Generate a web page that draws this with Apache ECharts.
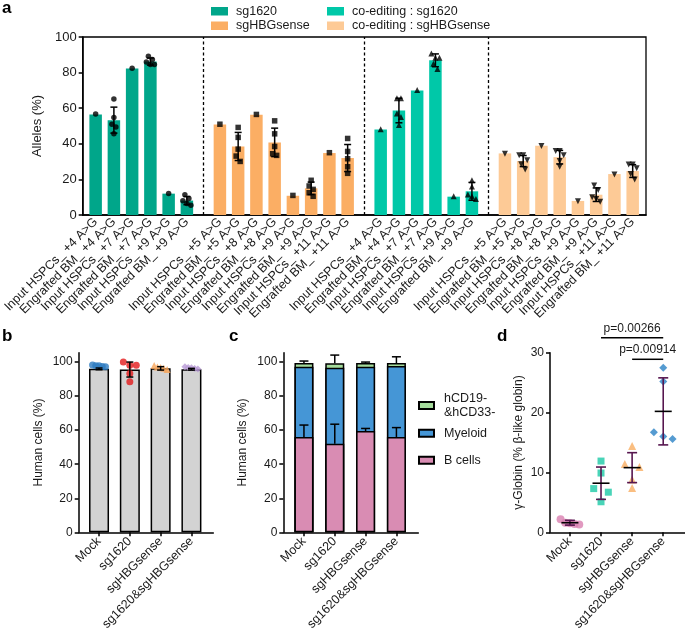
<!DOCTYPE html>
<html><head><meta charset="utf-8">
<script src="https://cdn.jsdelivr.net/npm/echarts@6/dist/echarts.min.js"></script>
<style>html,body{margin:0;padding:0;background:#fff}#c{width:685px;height:637px}</style>
</head><body><div id="c"></div>
<script>
// ================= DATA =================
// Panel a
const aSeriesNames = ['sg1620', 'sgHBGsense', 'co-editing : sg1620', 'co-editing : sgHBGsense'];
const aCat1 = ['Input HSPCs_ +4 A>G','Engrafted BM_ +4 A>G','Input HSPCs_ +7 A>G','Engrafted BM_ +7 A>G','Input HSPCs_ +9 A>G','Engrafted BM_ +9 A>G'];
const aCat2 = ['Input HSPCs_ +5 A>G','Engrafted BM_ +5 A>G','Input HSPCs_ +8 A>G','Engrafted BM_ +8 A>G','Input HSPCs_ +9 A>G','Engrafted BM_ +9 A>G','Input HSPCs_ +11 A>G','Engrafted BM_ +11 A>G'];
const aCat3 = ['Input HSPCs_ +4 A>G','Engrafted BM_ +4 A>G','Input HSPCs_ +7 A>G','Engrafted BM_ +7 A>G','Input HSPCs_ +9 A>G','Engrafted BM_ +9 A>G'];
const aCat4 = ['Input HSPCs_ +5 A>G','Engrafted BM_ +5 A>G','Input HSPCs_ +8 A>G','Engrafted BM_ +8 A>G','Input HSPCs_ +9 A>G','Engrafted BM_ +9 A>G','Input HSPCs_ +11 A>G','Engrafted BM_ +11 A>G'];
const aBar1 = [56.5, 53.3, 82.3, 86.2, 12.0, 8.1];
const aBar2 = [50.9, 38.5, 56.3, 40.8, 10.8, 15.0, 34.8, 32.0];
const aBar3 = [48.0, 58.7, 69.9, 86.9, 10.3, 13.3];
const aBar4 = [34.6, 30.3, 38.9, 32.5, 7.9, 11.4, 23.0, 24.7];
const aSd1 = [0, 7.3, 0, 2.0, 0, 2.3];
const aSd2 = [0, 7.9, 0, 8.0, 0, 3.5, 0, 7.6];
const aSd3 = [0, 6.9, 0, 3.6, 0, 5.0];
const aSd4 = [0, 3.1, 0, 3.8, 0, 3.8, 0, 3.6];
const aPts1 = [[56.7],[65.2,54.8,51.0,49.5,45.6],[82.4],[89.2,87.3,86.0,84.5,84.5],[12.1],[11.4,9.3,8.0,6.5,5.5]];
const aPts2 = [[51.0],[49.2,43.6,37.0,33.1,30.1],[56.5],[52.9,45.6,38.5,34.4,33.5],[11.0],[19.5,16.3,14.4,12.5,10.5],[35.0],[43.0,35.7,31.6,27.1,23.4]];
const aPts3 = [[48.2],[65.6,65.6,57.0,55.1,50.5],[70.2],[90.7,88.4,88.4,85.0,82.0],[10.6],[19.5,16.0,11.5,10.5,9.0]];
const aPts4 = [[34.4],[33.5,33.5,30.8,28.5,25.5],[38.7],[36.0,36.0,33.6,30.3,27.1],[7.7],[16.6,14.0,10.0,9.0,7.5],[22.8],[28.4,28.4,26.2,23.0,20.0]];
const aTicks = [0, 20, 40, 60, 80, 100];

// Panels b, c, d share the groups
const groups = ['Mock', 'sg1620', 'sgHBGsense', 'sg1620&sgHBGsense'];
// Panel b
const bBar = [96.0, 95.6, 96.3, 95.8];
const bSd = [0.5, 4.4, 1.0, 0.5];
const bPts = [[98.3,97.8,97.4,97.9,97.2],[100.0,98.2,98.2,93.3,88.4],[98.0,96.8,96.4,95.7,97.1],[97.3,96.2,96.8,95.9,96.6]];
const bTicks = [0, 20, 40, 60, 80, 100];
// Panel c
const cNames = ['B cells', 'Myeloid', 'hCD19-&hCD33-'];
const cB = [56.0, 52.0, 59.5, 56.0];
const cMyeloid = [41.3, 44.7, 37.8, 41.7];
const cOther = [2.1, 2.6, 2.1, 1.7];
const cBSd = [7.0, 11.5, 1.5, 5.5];
const cTopSd = [1.2, 4.8, 0.6, 3.7];
// Panel d
const dPts = [[2.2,1.6,1.5,1.3,1.4],[11.9,9.9,7.3,6.7,5.1],[14.4,11.4,10.9,8.8,7.4],[27.5,25.2,16.7,16.0,15.6]];
const dMean = [1.6, 8.2, 10.8, 20.2];
const dSd = [0.4, 2.7, 2.5, 5.6];
const dSigFrom = ['sg1620', 'sgHBGsense'];
const dSigTo = ['sg1620&sgHBGsense', 'sg1620&sgHBGsense'];
const dSigY = [32.5, 28.9];
const dSigText = ['p=0.00266', 'p=0.00914'];
const dTicks = [0, 10, 20, 30];

// ================= STYLE / LAYOUT =================
const FONT = '"Liberation Sans", Arial, Helvetica, sans-serif';
const TXT = '#1a1a1a';
const AX = {color: '#000', width: 1.5};
const aColors = ['#00A68A', '#FBAE64', '#00C8A8', '#FDCA96'];
const aSymbols = ['circle', 'rect', 'triangle', 'triangle'];
const aRot = [0, 0, 0, 180];
const bColors = ['#2C7BC0', '#E41A1C', '#F7A55A', '#B89AD6'];
const bSymbols = ['circle', 'circle', 'triangle', 'diamond'];
const cColors = ['#D98CB3', '#4596D6', '#A5DC9C'];
const dColors = ['#D97FB0', '#1CC9A6', '#F9AE62', '#2B82C6'];
const dSymbols = ['circle', 'rect', 'triangle', 'diamond'];
const WHISK = '#57164F';
const GROUP_GAP = 0.81;

const aCats = [aCat1, aCat2, aCat3, aCat4];
const aBars = [aBar1, aBar2, aBar3, aBar4];
const aSds = [aSd1, aSd2, aSd3, aSd4];
const aPts = [aPts1, aPts2, aPts3, aPts4];

// x position of each bar in panel a (category index plus a gap between groups)
const aOffsets = [];
let acc = 0;
aCats.forEach((c, g) => { aOffsets.push(acc + g * GROUP_GAP); acc += c.length; });
const aPos = aCats.map((c, g) => c.map((_, i) => aOffsets[g] + i));
const aAllPos = [].concat(...aPos);
const aAllLab = [].concat(...aCats);
const aSeps = aOffsets.slice(1).map(o => o - (1 + GROUP_GAP) / 2);
const aMin = -0.71, aMax = aAllPos[aAllPos.length - 1] + 0.73;

// simple Prism-like horizontal spreading of close points
function swarm(vals, thresh, step, span) {
  const idx = vals.map((v, i) => i).sort((i, j) => vals[j] - vals[i]);
  const off = new Array(vals.length).fill(0);
  let row = [];
  const flush = () => {
    const st = row.length > 1 ? Math.min(step, span / (row.length - 1)) : 0;
    row.forEach((k, r) => { off[k] = (r - (row.length - 1) / 2) * st; });
    row = [];
  };
  idx.forEach(k => {
    if (row.length && vals[row[0]] - vals[k] >= thresh) flush();
    row.push(k);
  });
  flush();
  return off;
}

function labelFrom(values, labels) {
  return v => { let best = 0, bd = 1e9; values.forEach((p, i) => { const d = Math.abs(p - v); if (d < bd) { bd = d; best = i; } }); return labels[best]; };
}

function xAxisDef(gridIndex, min, max, values, labels, showTick, fontSize, margin) {
  return {
    type: 'value', gridIndex, min, max, splitLine: {show: false},
    axisLine: {show: true, onZero: false, lineStyle: AX},
    axisTick: {show: showTick, customValues: values, length: 4, lineStyle: AX},
    axisLabel: {customValues: values, formatter: labelFrom(values, labels), rotate: 45, margin,
      fontSize, color: TXT, fontFamily: FONT}
  };
}
function yAxisDef(gridIndex, max, ticks, name, nameGap, fontSize) {
  return {
    type: 'value', gridIndex, min: 0, max, splitLine: {show: false},
    axisLine: {show: true, onZero: false, lineStyle: AX},
    axisTick: {show: true, customValues: ticks, length: 4, lineStyle: AX},
    axisLabel: {customValues: ticks, margin: 6, fontSize, color: TXT, fontFamily: FONT},
    name, nameLocation: 'middle', nameGap,
    nameTextStyle: {fontSize, color: TXT, fontFamily: FONT}
  };
}

function errRender(capW, color, lw, upOnly) {
  return function (params, api) {
    const x = api.value(0), m = api.value(1), s = api.value(2);
    if (!(s > 0)) return null;
    const top = api.coord([x, m + s]);
    const bot = api.coord(upOnly ? [x, m] : [x, m - s]);
    const st = {stroke: color, lineWidth: lw};
    const ch = [
      {type: 'line', shape: {x1: top[0], y1: top[1], x2: bot[0], y2: bot[1]}, style: st},
      {type: 'line', shape: {x1: top[0] - capW / 2, y1: top[1], x2: top[0] + capW / 2, y2: top[1]}, style: st}
    ];
    if (!upOnly) ch.push({type: 'line', shape: {x1: bot[0] - capW / 2, y1: bot[1], x2: bot[0] + capW / 2, y2: bot[1]}, style: st});
    return {type: 'group', children: ch};
  };
}

const series = [];

// ---------- panel a ----------
aBars.forEach((vals, g) => {
  const s = {
    type: 'bar', name: aSeriesNames[g], xAxisIndex: 0, yAxisIndex: 0,
    barWidth: 12.5, barGap: '-100%', z: 2,
    itemStyle: {color: aColors[g]},
    data: vals.map((v, i) => [aPos[g][i], v])
  };
  if (g === 0) {
    s.markLine = {silent: true, symbol: ['none', 'none'], label: {show: false},
      lineStyle: {type: [3, 2.5], color: '#000', width: 1.3},
      data: aSeps.map(x => ({xAxis: x}))};
  }
  series.push(s);
});
const aErr = [];
aBars.forEach((vals, g) => vals.forEach((v, i) => { if (aSds[g][i] > 0) aErr.push([aPos[g][i], v, aSds[g][i]]); }));
series.push({type: 'custom', xAxisIndex: 0, yAxisIndex: 0, z: 3, clip: false,
  renderItem: errRender(7, '#000', 1.5, false), encode: {x: 0, y: 1}, data: aErr});
aPts.forEach((bars, g) => {
  const data = [];
  bars.forEach((pts, i) => {
    const off = swarm(pts, 3.1, 0.22, 0.44);
    pts.forEach((v, k) => data.push([aPos[g][i] + off[k], v]));
  });
  series.push({type: 'scatter', xAxisIndex: 0, yAxisIndex: 0, z: 4, symbol: aSymbols[g],
    symbolRotate: aRot[g], symbolSize: aSymbols[g] === 'triangle' ? 6 : 5.5,
    itemStyle: {color: '#000'}, data});
});

// ---------- panel b ----------
const gPos = groups.map((_, i) => i);
series.push({type: 'bar', xAxisIndex: 1, yAxisIndex: 1, barWidth: 20, z: 2,
  itemStyle: {color: '#D3D3D3', borderColor: '#000', borderWidth: 1.5},
  data: bBar.map((v, i) => [i, v])});
bPts.forEach((pts, g) => {
  const off = swarm(pts, 2.5, 0.46, 0.42);
  series.push({type: 'scatter', xAxisIndex: 1, yAxisIndex: 1, z: 3, symbol: bSymbols[g], symbolSize: 7,
    itemStyle: {color: bColors[g]}, data: pts.map((v, k) => [g + off[k], v])});
});
series.push({type: 'custom', xAxisIndex: 1, yAxisIndex: 1, z: 4, clip: false,
  renderItem: errRender(7, '#000', 1.5, false), encode: {x: 0, y: 1},
  data: bBar.map((v, i) => [i, v, bSd[i]])});

// ---------- panel c (stack drawn as overlapping cumulative bars) ----------
const cCum = [cB, cMyeloid, cOther];
const cTop = [];
[2, 1, 0].forEach(k => {
  const vals = cB.map((_, i) => cCum.slice(0, k + 1).reduce((s, arr) => s + arr[i], 0));
  series.push({type: 'bar', name: cNames[k], xAxisIndex: 2, yAxisIndex: 2, barWidth: 19, barGap: '-100%', z: 2,
    itemStyle: {color: cColors[k], borderColor: '#000', borderWidth: 1.5},
    data: vals.map((v, i) => [i, v])});
  if (k === 2) vals.forEach(v => cTop.push(v));
});
series.push({type: 'custom', xAxisIndex: 2, yAxisIndex: 2, z: 3, clip: false,
  renderItem: errRender(9, '#000', 1.5, true), encode: {x: 0, y: 1},
  data: cB.map((v, i) => [i, v, cBSd[i]])});
series.push({type: 'custom', xAxisIndex: 2, yAxisIndex: 2, z: 3, clip: false,
  renderItem: errRender(9, '#000', 1.5, true), encode: {x: 0, y: 1},
  data: cTop.map((v, i) => [i, v, cTopSd[i]])});

// ---------- panel d ----------
dPts.forEach((pts, g) => {
  const off = swarm(pts, 1.2, 0.47, 0.6);
  series.push({type: 'scatter', xAxisIndex: 3, yAxisIndex: 3, z: 2, symbol: dSymbols[g],
    symbolSize: dSymbols[g] === 'rect' ? 7 : 8,
    itemStyle: {color: dColors[g]}, data: pts.map((v, k) => [g + off[k], v])});
});
series.push({type: 'custom', xAxisIndex: 3, yAxisIndex: 3, z: 3, clip: false, encode: {x: 0, y: 1},
  data: dMean.map((m, i) => [i, m, dSd[i]]),
  renderItem: function (params, api) {
    const x = api.value(0), m = api.value(1), s = api.value(2);
    const t = api.coord([x, m + s]), b = api.coord([x, m - s]), c = api.coord([x, m]);
    const ws = {stroke: WHISK, lineWidth: 1.6};
    return {type: 'group', children: [
      {type: 'line', shape: {x1: t[0], y1: t[1], x2: b[0], y2: b[1]}, style: ws},
      {type: 'line', shape: {x1: t[0] - 5, y1: t[1], x2: t[0] + 5, y2: t[1]}, style: ws},
      {type: 'line', shape: {x1: b[0] - 5, y1: b[1], x2: b[0] + 5, y2: b[1]}, style: ws},
      {type: 'line', shape: {x1: c[0] - 8.5, y1: c[1], x2: c[0] + 8.5, y2: c[1]}, style: {stroke: '#000', lineWidth: 1.6}}
    ]};
  }});
series.push({type: 'custom', xAxisIndex: 3, yAxisIndex: 3, z: 5, clip: false, encode: {x: 0, y: 1},
  data: dSigY.map((y, i) => [groups.indexOf(dSigFrom[i]), y, groups.indexOf(dSigTo[i])]),
  renderItem: function (params, api) {
    const a = api.coord([api.value(0), api.value(1)]), b = api.coord([api.value(2), api.value(1)]);
    return {type: 'group', children: [
      {type: 'line', shape: {x1: a[0], y1: a[1], x2: b[0], y2: b[1]}, style: {stroke: '#000', lineWidth: 1.5}},
      {type: 'text', style: {text: dSigText[params.dataIndex], x: (a[0] + b[0]) / 2, y: a[1] - 3.5,
        align: 'center', verticalAlign: 'bottom', fontSize: 12, fontFamily: FONT, fill: TXT}}
    ]};
  }});

const legTxt = (fs, pad) => ({fontSize: fs, color: TXT, fontFamily: FONT, lineHeight: 14.5, padding: [0, 0, 0, pad]});

const option = {
  animation: false,
  backgroundColor: '#fff',
  textStyle: {fontFamily: FONT},
  grid: [
    {left: 78, top: 37, width: 568, height: 178, show: true, borderColor: '#000', borderWidth: 1.3, backgroundColor: 'transparent'},
    {left: 78.7, top: 352.7, width: 134.6, height: 179.6},
    {left: 283.3, top: 352.7, width: 135, height: 179.6},
    {left: 550, top: 352.7, width: 135, height: 179.6}
  ],
  xAxis: [
    xAxisDef(0, aMin, aMax, aAllPos, aAllLab, false, 12.5, 5),
    xAxisDef(1, -0.66, 3.71, gPos, groups, true, 12.5, 7),
    xAxisDef(2, -0.67, 3.71, gPos, groups, true, 12.5, 7),
    xAxisDef(3, -0.64, 3.70, gPos, groups, true, 12.5, 7)
  ],
  yAxis: [
    yAxisDef(0, 100, aTicks, 'Alleles (%)', 28, 13),
    yAxisDef(1, 105.5, bTicks, 'Human cells (%)', 34.5, 12),
    yAxisDef(2, 105.5, bTicks, 'Human cells (%)', 34.5, 12),
    yAxisDef(3, 30, dTicks, 'γ-Globin (% β-like globin)', 25.5, 12)
  ],
  legend: [
    {orient: 'vertical', left: 211, top: 4, padding: 0, itemWidth: 17, itemHeight: 8.5, itemGap: 0, icon: 'rect',
      data: [aSeriesNames[0], aSeriesNames[1]], textStyle: legTxt(12.5, 3)},
    {orient: 'vertical', left: 327, top: 4, padding: 0, itemWidth: 17, itemHeight: 8.5, itemGap: 0, icon: 'rect',
      data: [aSeriesNames[2], aSeriesNames[3]], textStyle: legTxt(12.5, 3)},
    {orient: 'vertical', left: 418, top: 391, padding: 0, itemWidth: 15, itemHeight: 7, icon: 'rect',
      data: [cNames[2]], formatter: n => n.replace('&', '\n&'), textStyle: legTxt(12.5, 5)},
    {orient: 'vertical', left: 418, top: 426, padding: 0, itemWidth: 15, itemHeight: 7, icon: 'rect',
      data: [cNames[1]], textStyle: legTxt(12.5, 5)},
    {orient: 'vertical', left: 418, top: 453, padding: 0, itemWidth: 15, itemHeight: 7, icon: 'rect',
      data: [cNames[0]], textStyle: legTxt(12.5, 5)}
  ],
  graphic: [
    {type: 'text', left: 2, top: 0, style: {text: 'a', fontSize: 17, fontWeight: 'bold', fill: '#000', fontFamily: FONT}},
    {type: 'text', left: 2, top: 328, style: {text: 'b', fontSize: 17, fontWeight: 'bold', fill: '#000', fontFamily: FONT}},
    {type: 'text', left: 229, top: 328, style: {text: 'c', fontSize: 17, fontWeight: 'bold', fill: '#000', fontFamily: FONT}},
    {type: 'text', left: 497, top: 328, style: {text: 'd', fontSize: 17, fontWeight: 'bold', fill: '#000', fontFamily: FONT}}
  ],
  series
};

const chart = echarts.init(document.getElementById('c'), null, {renderer: 'canvas', width: 685, height: 637});
chart.setOption(option);
</script>
</body></html>
